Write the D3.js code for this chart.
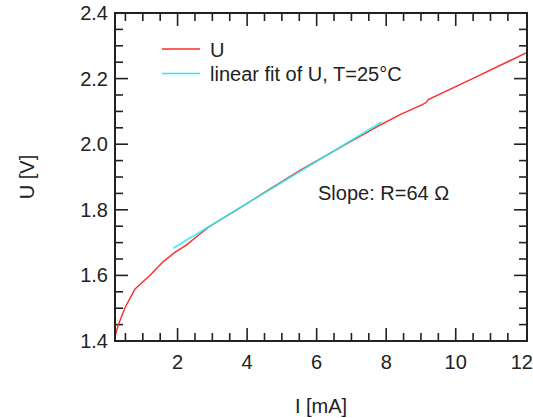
<!DOCTYPE html>
<html>
<head>
<meta charset="utf-8">
<script src="https://cdn.jsdelivr.net/npm/d3@7.9.0/dist/d3.min.js"></script>
<style>
  body { margin: 0; background: #fff; }
  svg text { font-family: Arial, "Liberation Sans", sans-serif; fill: #222; }
</style>
</head>
<body>
<svg id="chart" width="533" height="418"></svg>
<script>
// measured current (mA) and voltage (V)
const currentI = [0.2, 0.3, 0.48, 0.63, 0.77, 1.2, 1.59, 1.92, 2.26, 2.64, 2.88, 3.27, 3.6, 4.5, 5.52, 6.96, 7.82, 8.4, 9.02, 9.15, 9.21, 10.5, 12.04];
const voltageU = [1.415, 1.45, 1.5, 1.53, 1.558, 1.6, 1.642, 1.67, 1.693, 1.726, 1.746, 1.772, 1.793, 1.853, 1.92, 2.007, 2.058, 2.09, 2.12, 2.127, 2.136, 2.201, 2.279];

// linear fit end points
const fitI = [1.87, 7.87];
const fitU = [1.683, 2.068];

const xMajor = [2, 4, 6, 8, 10, 12];
const yMajor = [1.4, 1.6, 1.8, 2.0, 2.2, 2.4];
const legendLabels = ['U', 'linear fit of U, T=25°C'];
const slopeText = 'Slope: R=64 Ω';

const width = 533, height = 418;
const margin = { top: 13, right: 6, bottom: 77, left: 115 };
const svg = d3.select('#chart');

const x = d3.scaleLinear().domain([0.2, 12.05]).range([margin.left, width - margin.right]);
const y = d3.scaleLinear().domain([1.4, 2.4]).range([height - margin.bottom, margin.top]);

const x0 = margin.left, x1 = width - margin.right;
const y0 = height - margin.bottom, y1 = margin.top;

const xMinor = d3.range(0.5, 12.01, 0.5).filter(v => !xMajor.includes(v));
const yMinor = d3.range(1.45, 2.4, 0.05).map(v => +v.toFixed(2)).filter(v => !yMajor.includes(v));

// ticks point into the plot on all four sides
function tickLines(g, vals, len) {
  vals.forEach(v => {
    g.append('line').attr('x1', x(v)).attr('x2', x(v)).attr('y1', y0).attr('y2', y0 - len);
    g.append('line').attr('x1', x(v)).attr('x2', x(v)).attr('y1', y1).attr('y2', y1 + len);
  });
}
function tickLinesY(g, vals, len) {
  vals.forEach(v => {
    g.append('line').attr('y1', y(v)).attr('y2', y(v)).attr('x1', x0).attr('x2', x0 + len);
    g.append('line').attr('y1', y(v)).attr('y2', y(v)).attr('x1', x1).attr('x2', x1 - len);
  });
}

const ticks = svg.append('g').attr('stroke', '#222').attr('stroke-width', 1.6);
tickLines(ticks, xMajor.filter(v => v < 12), 13);
tickLines(ticks, xMinor, 8);
tickLinesY(ticks, yMajor.filter(v => v > 1.4 && v < 2.4), 13);
tickLinesY(ticks, yMinor, 8);

// data lines
const line = d3.line().x(d => x(d[0])).y(d => y(d[1]));
svg.append('path')
  .datum(currentI.map((v, i) => [v, voltageU[i]]))
  .attr('d', line)
  .attr('fill', 'none')
  .attr('stroke', '#ff2a2a')
  .attr('stroke-width', 1.4);

svg.append('path')
  .datum(fitI.map((v, i) => [v, fitU[i]]))
  .attr('d', line)
  .attr('fill', 'none')
  .attr('stroke', '#22eeee')
  .attr('stroke-width', 1.8)
  .attr('opacity', 0.85);

// frame
svg.append('rect')
  .attr('x', x0).attr('y', y1)
  .attr('width', x1 - x0).attr('height', y0 - y1)
  .attr('fill', 'none').attr('stroke', '#222').attr('stroke-width', 2);

// tick labels (last one kept inside the picture)
svg.append('g').selectAll('text').data(xMajor).join('text')
  .attr('x', d => d === 12 ? width : x(d)).attr('y', y0 + 28)
  .attr('text-anchor', d => d === 12 ? 'end' : 'middle').attr('font-size', 20)
  .text(d => d);

svg.append('g').selectAll('text').data(yMajor).join('text')
  .attr('x', x0 - 7).attr('y', d => y(d) + 7)
  .attr('text-anchor', 'end').attr('font-size', 20)
  .text(d => d.toFixed(1));

// axis titles
svg.append('text')
  .attr('x', (x0 + x1) / 2).attr('y', 413)
  .attr('text-anchor', 'middle').attr('font-size', 20)
  .text('I [mA]');

svg.append('text')
  .attr('transform', `translate(34,${(y0 + y1) / 2}) rotate(-90)`)
  .attr('text-anchor', 'middle').attr('font-size', 20)
  .text('U [V]');

// legend
const legendColors = ['#ff2a2a', '#22eeee'];
legendLabels.forEach((lab, i) => {
  const ly = 49 + i * 24.5;
  svg.append('line')
    .attr('x1', 162).attr('x2', 200).attr('y1', ly).attr('y2', ly)
    .attr('stroke', legendColors[i]).attr('stroke-width', 1.6);
  svg.append('text')
    .attr('x', 210).attr('y', ly + 7.5)
    .attr('font-size', 20)
    .text(lab);
});

svg.append('text')
  .attr('x', 318).attr('y', 200)
  .attr('font-size', 20)
  .text(slopeText);
</script>
</body>
</html>
